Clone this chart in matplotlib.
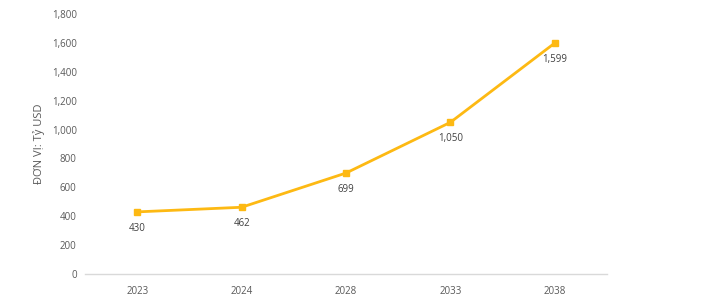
import matplotlib
matplotlib.use("Agg")
import matplotlib.pyplot as plt

years = ["2023", "2024", "2028", "2033", "2038"]
values = [430, 462, 699, 1050, 1599]
yticks = [0, 200, 400, 600, 800, 1000, 1200, 1400, 1600, 1800]

plt.rcParams['font.family'] = ['Open Sans', 'DejaVu Sans']

fig = plt.figure(figsize=(7.24, 3.01), dpi=100)
ax = fig.add_axes([85/724, 1 - 274/301, 522/724, 260/301])

x = list(range(len(years)))
ax.plot(x, values, color='#FDB913', linewidth=2, marker='s', markersize=4.5)

for xi, v in zip(x, values):
    ax.annotate(f"{v:,}", (xi, v), xytext=(0, -8), textcoords='offset points',
                ha='center', va='top', fontsize=7, color='#404040')

ax.set_xlim(-0.5, len(years) - 0.5)
ax.set_ylim(0, 1800)
ax.set_xticks(x)
ax.set_xticklabels(years)
ax.set_yticks(yticks)
ax.set_yticklabels([f"{t:,}" for t in yticks])
ax.tick_params(axis='both', length=0, labelsize=7, labelcolor='#595959')
ax.tick_params(axis='x', pad=9)
ax.tick_params(axis='y', pad=6)

for s in ['top', 'right', 'left']:
    ax.spines[s].set_visible(False)
ax.spines['bottom'].set_color('#D9D9D9')
ax.spines['bottom'].set_linewidth(1)

ax.set_ylabel("ĐƠN VỊ: Tỷ USD", fontsize=8, color='#595959', labelpad=5)

fig.savefig("out.png", dpi=100)
